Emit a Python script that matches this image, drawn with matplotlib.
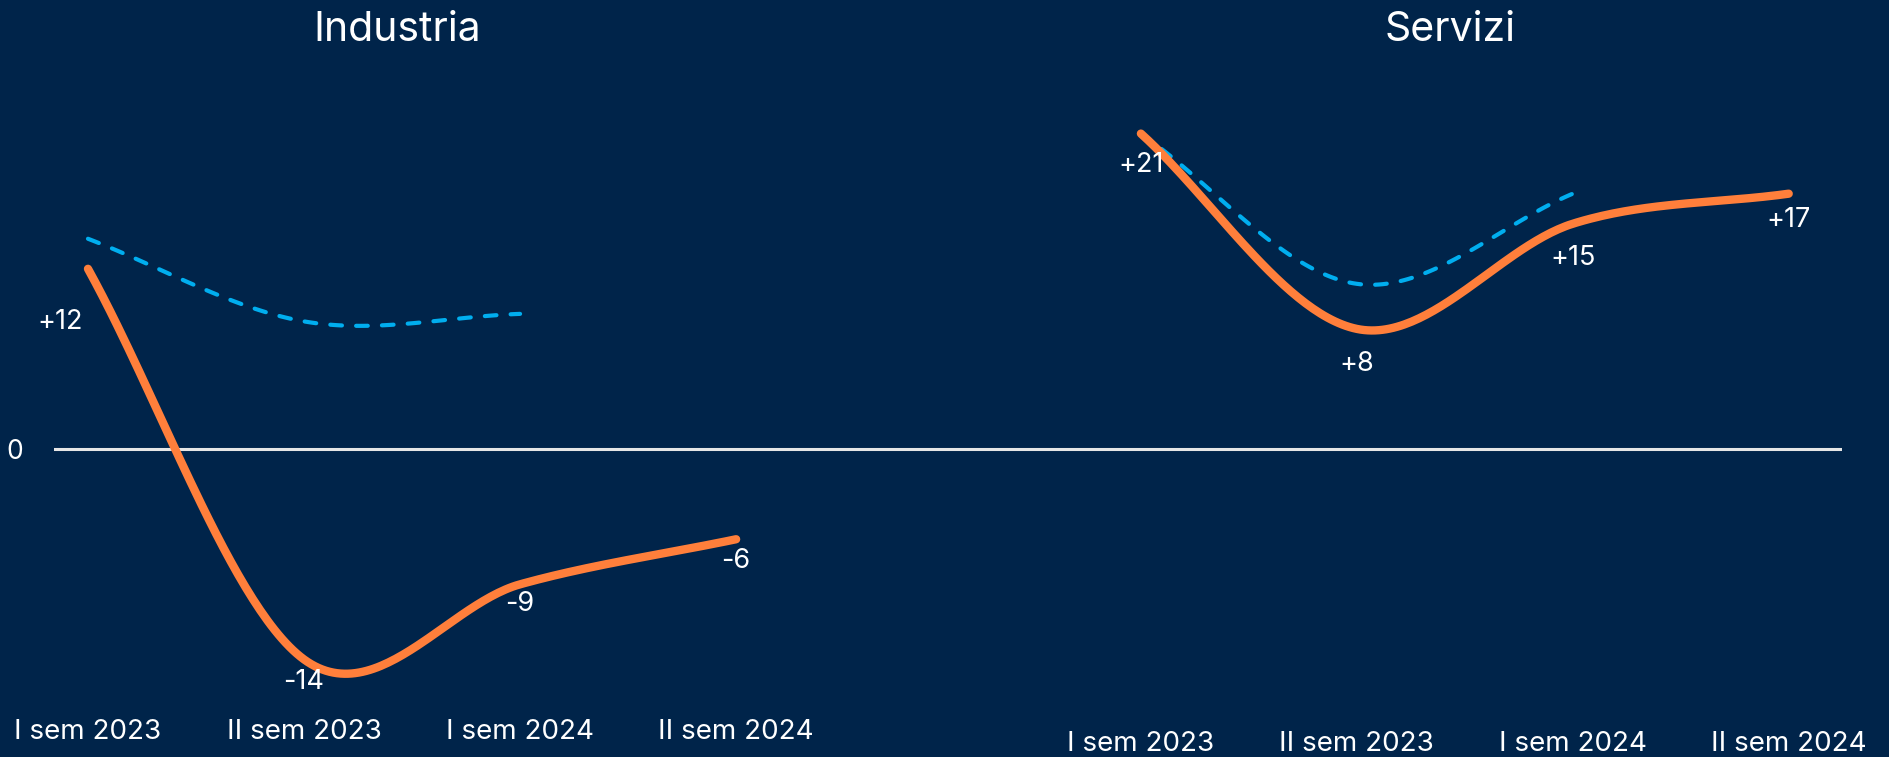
import numpy as np
import matplotlib
matplotlib.use("Agg")
import matplotlib.pyplot as plt
import matplotlib.transforms as mtransforms

# Data
periods = ["I sem 2023", "II sem 2023", "I sem 2024", "II sem 2024"]
industria = [12, -14, -9, -6]
industria_prev = [14, 8.5, 9]
servizi = [21, 8, 15, 17]
servizi_prev = [21, 11, 17]
titles = ["Industria", "Servizi"]

BG = "#00244A"
ORANGE = "#FF7F3B"
BLUE = "#00AEEF"
WHITE = "#FFFFFF"
ZERO = "#E6E6E6"

plt.rcParams["font.family"] = ["Inter", "DejaVu Sans"]


# Smooth line like office charts (cubic Hermite / Catmull-Rom)
def smooth(y, n=60):
    y = np.asarray(y, dtype=float)
    x = np.arange(len(y), dtype=float)
    m = np.zeros_like(y)
    m[1:-1] = (y[2:] - y[:-2]) / 2
    m[0] = y[1] - y[0]
    m[-1] = y[-1] - y[-2]
    xs, ys = [], []
    for i in range(len(y) - 1):
        t = np.linspace(0, 1, n)
        h00 = 2 * t**3 - 3 * t**2 + 1
        h10 = t**3 - 2 * t**2 + t
        h01 = -2 * t**3 + 3 * t**2
        h11 = t**3 - t**2
        xs.append(x[i] + t)
        ys.append(h00 * y[i] + h10 * m[i] + h01 * y[i + 1] + h11 * m[i + 1])
    return np.concatenate(xs), np.concatenate(ys)


fig = plt.figure(figsize=(18.9, 7.57), dpi=100)
fig.patch.set_facecolor(BG)

ax1 = fig.add_axes([0.0286, 0.0634, 0.4688, 0.8415])
ax2 = fig.add_axes([0.4974, 0.0634, 0.4770, 0.8415])

panels = [
    (ax1, industria, industria_prev, (-0.157, 3.944), 7,
     [(-28, -53), (0, -23), (0, -20), (0, -22)]),
    (ax2, servizi, servizi_prev, (-0.93, 3.245), 15.5,
     [(0, -31), (0, -35), (0, -34), (0, -26)]),
]

for k, (ax, vals, prev, xlim, pad, offs) in enumerate(panels):
    ax.set_facecolor(BG)
    ax.set_xlim(*xlim)
    ax.set_ylim(-17.3, 25.1)
    for s in ax.spines.values():
        s.set_visible(False)

    ax.axhline(0, color=ZERO, lw=2.2, zorder=1)

    xp, yp = smooth(prev)
    ax.plot(xp, yp, color=BLUE, lw=3, dashes=(2.8, 3.4),
            dash_capstyle="round", zorder=2)
    xs, ys = smooth(vals)
    ax.plot(xs, ys, color=ORANGE, lw=6, solid_capstyle="round", zorder=3)

    for i, v in enumerate(vals):
        lab = f"+{v}" if v > 0 else f"{v}"
        ax.annotate(lab, xy=(i, v), xytext=offs[i], textcoords="offset pixels",
                    ha="center", va="center", color=WHITE, fontsize=19.5)

    ax.set_xticks(range(len(periods)))
    ax.set_xticklabels(periods)
    ax.tick_params(axis="x", length=0, pad=pad, labelsize=20, labelcolor=WHITE)

    if k == 0:
        ax.set_yticks([0])
        ax.set_yticklabels(["0"])
        ax.tick_params(axis="y", length=0, pad=22, labelsize=19, labelcolor=WHITE)
    else:
        ax.set_yticks([])

    trans = mtransforms.blended_transform_factory(ax.transData, fig.transFigure)
    ax.text(1.43, 0.96, titles[k], transform=trans, ha="center", va="center",
            color=WHITE, fontsize=29.5)

fig.savefig("out.png", dpi=100, facecolor=BG)
